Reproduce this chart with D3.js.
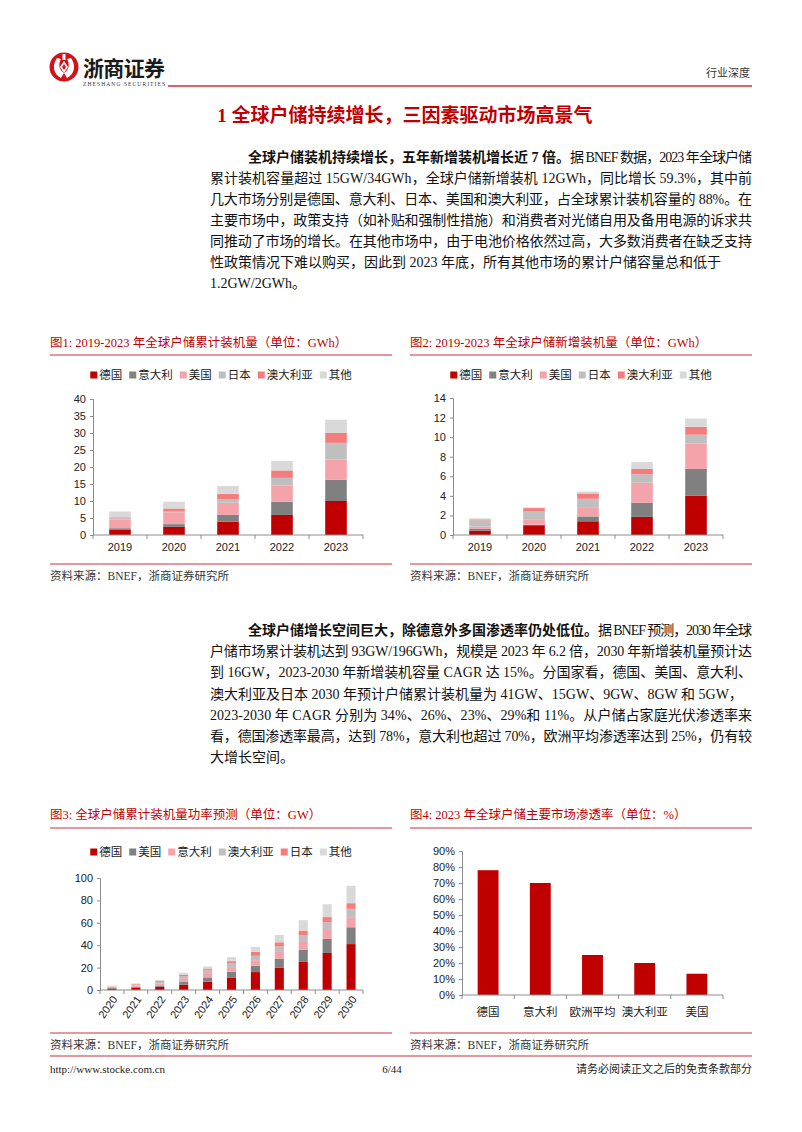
<!DOCTYPE html>
<html><head><meta charset="utf-8">
<script src="https://cdn.jsdelivr.net/npm/d3@7"></script>
<style>
body{margin:0;background:#fff;}
svg{display:block;}
</style></head><body>
<svg id="page" width="802" height="1132"></svg>
<script>
// ---------------- DATA ----------------
// Fig 1: cumulative installed (GWh)
const cumYears = ["2019","2020","2021","2022","2023"];
const cumSeries = ["德国","意大利","美国","日本","澳大利亚","其他"];
const cumGermany = [1.5, 2.4, 3.9, 5.9, 10.0];
const cumItaly   = [0.5, 0.8, 2.0, 3.9, 6.2];
const cumUS      = [2.6, 3.5, 3.6, 4.7, 6.0];
const cumJapan   = [0.3, 0.2, 1.0, 2.3, 4.9];
const cumAus     = [0.3, 0.9, 1.6, 2.2, 2.9];
const cumOther   = [1.7, 2.0, 2.3, 2.8, 3.9];
const cumTicks   = [0, 5, 10, 15, 20, 25, 30, 35, 40];

// Fig 2: new installations (GWh)
const newYears = ["2019","2020","2021","2022","2023"];
const newSeries = ["德国","意大利","美国","日本","澳大利亚","其他"];
const newGermany = [0.45, 1.0, 1.4, 1.85, 4.0];
const newItaly   = [0.2, 0.05, 0.5, 1.45, 2.75];
const newUS      = [0.2, 0.5, 0.95, 2.05, 2.6];
const newJapan   = [0.65, 0.85, 0.85, 0.85, 0.9];
const newAus     = [0.1, 0.35, 0.55, 0.55, 0.8];
const newOther   = [0.1, 0.07, 0.2, 0.7, 0.85];
const newTicks   = [0, 2, 4, 6, 8, 10, 12, 14];

// Fig 3: forecast cumulative power (GW)
const fcYears = ["2020","2021","2022","2023","2024","2025","2026","2027","2028","2029","2030"];
const fcSeries = ["德国","美国","意大利","澳大利亚","日本","其他"];
const fcGermany = [1.3, 2.0, 2.8, 4.7, 7.4, 11.2, 16.0, 20.1, 25.1, 33.1, 41.0];
const fcUS      = [0.5, 0.8, 1.2, 2.4, 3.8, 5.1, 5.6, 8.0, 11.0, 12.5, 15.0];
const fcItaly   = [0.7, 1.1, 1.8, 2.7, 4.8, 4.1, 5.0, 5.9, 6.8, 8.0, 9.0];
const fcAus     = [0.5, 0.9, 1.5, 2.3, 2.0, 3.6, 3.9, 4.8, 5.9, 6.8, 7.5];
const fcJapan   = [0.3, 0.5, 0.7, 1.5, 1.2, 1.7, 3.5, 3.8, 4.2, 4.7, 5.0];
const fcOther   = [0.4, 0.6, 1.0, 1.8, 1.8, 3.6, 4.5, 6.5, 9.4, 11.5, 15.5];
const fcTicks   = [0, 20, 40, 60, 80, 100];

// Fig 4: penetration rate 2023 (%)
const penMarkets = ["德国","意大利","欧洲平均","澳大利亚","美国"];
const penRates   = [78, 70, 25, 20, 13.3];
const penTicks   = [0, 10, 20, 30, 40, 50, 60, 70, 80, 90];

// Text content
const para1 = [
  {bold:"全球户储装机持续增长，五年新增装机增长近 7 倍。", text:"据 BNEF 数据，2023 年全球户储", justify:true},
  {text:"累计装机容量超过 15GW/34GWh，全球户储新增装机 12GWh，同比增长 59.3%，其中前", justify:true},
  {text:"几大市场分别是德国、意大利、日本、美国和澳大利亚，占全球累计装机容量的 88%。在", justify:true},
  {text:"主要市场中，政策支持（如补贴和强制性措施）和消费者对光储自用及备用电源的诉求共", justify:true},
  {text:"同推动了市场的增长。在其他市场中，由于电池价格依然过高，大多数消费者在缺乏支持", justify:true},
  {text:"性政策情况下难以购买，因此到 2023 年底，所有其他市场的累计户储容量总和低于", justify:false},
  {text:"1.2GW/2GWh。", justify:false}
];
const para2 = [
  {bold:"全球户储增长空间巨大，除德意外多国渗透率仍处低位。", text:"据 BNEF 预测，2030 年全球", justify:true},
  {text:"户储市场累计装机达到 93GW/196GWh，规模是 2023 年 6.2 倍，2030 年新增装机量预计达", justify:true},
  {text:"到 16GW，2023-2030 年新增装机容量 CAGR 达 15%。分国家看，德国、美国、意大利、", justify:true},
  {text:"澳大利亚及日本 2030 年预计户储累计装机量为 41GW、15GW、9GW、8GW 和 5GW，", justify:false},
  {text:"2023-2030 年 CAGR 分别为 34%、26%、23%、29%和 11%。从户储占家庭光伏渗透率来", justify:true},
  {text:"看，德国渗透率最高，达到 78%，意大利也超过 70%，欧洲平均渗透率达到 25%，仍有较", justify:true},
  {text:"大增长空间。", justify:false}
];

// ---------------- STYLE ----------------
const SERIF = "'Liberation Serif','Noto Sans CJK SC',serif";
const SANS = "'Liberation Sans','Noto Sans CJK SC',sans-serif";
const RED = "#c00000";
const RULE = "#c8323c";
const colorsA = ["#c00000","#808080","#f5a3ab","#bfbfbf","#f47c7c","#d9d9d9"];
const colorsB = ["#c00000","#808080","#f5a3ab","#bfbfbf","#f47c7c","#d9d9d9"];
const AXIS = "#8c8c8c";

const svg = d3.select("#page");
svg.append("rect").attr("width",802).attr("height",1132).attr("fill","#fff");

// ---------------- HEADER ----------------
const logo = svg.append("g").attr("transform","translate(64,67)");
logo.append("circle").attr("r",14.5).attr("fill","#d0121b");
logo.append("path").attr("d","M-7,-9 C-12,-2 -11,7 -3,11 L0,6 C-5,3 -6,-3 -3,-8 Z").attr("fill","#fff");
logo.append("path").attr("d","M7,-9 C12,-2 11,7 3,11 L0,6 C5,3 6,-3 3,-8 Z").attr("fill","#fff");
logo.append("path").attr("d","M0,-6 L4,0 L0,6 L-4,0 Z").attr("fill","#fff");
logo.append("path").attr("d","M0,-3 L2,0 L0,3 L-2,0 Z").attr("fill","#d0121b");
logo.append("rect").attr("x",-1.5).attr("y",-13).attr("width",3).attr("height",6).attr("fill","#fff");
svg.append("text").attr("x",83).attr("y",76).attr("font-family","'Noto Sans CJK SC',sans-serif")
  .attr("font-weight",700).attr("font-size",21).attr("fill","#1a1a1a").attr("textLength",82).text("浙商证券");
svg.append("text").attr("x",83).attr("y",86).attr("font-family",SERIF).attr("font-size",5.5)
  .attr("fill","#333").attr("textLength",82).text("ZHESHANG SECURITIES");
svg.append("line").attr("x1",168).attr("x2",752).attr("y1",86).attr("y2",86).attr("stroke",RULE).attr("stroke-width",1.5);
svg.append("text").attr("x",750).attr("y",77).attr("text-anchor","end").attr("font-family",SERIF)
  .attr("font-size",11).attr("fill","#333").text("行业深度");

svg.append("text").attr("x",405).attr("y",122).attr("text-anchor","middle").attr("font-family",SERIF)
  .attr("font-weight",700).attr("font-size",19).attr("fill",RED).text("1 全球户储持续增长，三因素驱动市场高景气");

// ---------------- PARAGRAPHS ----------------
function paragraph(lines, yBase, lh) {
  const leftX = 210, indentX = 248, rightX = 752;
  lines.forEach((ln, i) => {
    const y = yBase + i * lh;
    let x = i === 0 ? indentX : leftX;
    if (ln.bold) {
      const b = svg.append("text").attr("x", x).attr("y", y).attr("font-family", SERIF)
        .attr("font-weight", 700).attr("font-size", 14).attr("fill", "#111").text(ln.bold);
      x += b.node().getComputedTextLength();
    }
    const t = svg.append("text").attr("x", x).attr("y", y).attr("font-family", SERIF)
      .attr("font-size", 14).attr("fill", "#111").text(ln.text);
    if (ln.justify) t.attr("textLength", rightX - x).attr("lengthAdjust", "spacing");
  });
}
paragraph(para1, 162, 21);
paragraph(para2, 635, 21.2);

// ---------------- CHART HELPERS ----------------
function panelFrame(x0, x1, titleY, ruleY, bottomY, title) {
  svg.append("text").attr("x", x0).attr("y", titleY).attr("font-family", SERIF).attr("font-size", 12.5)
    .attr("fill", RED).text(title);
  svg.append("line").attr("x1", x0).attr("x2", x1).attr("y1", ruleY).attr("y2", ruleY)
    .attr("stroke", RULE).attr("stroke-width", 1);
  svg.append("line").attr("x1", x0).attr("x2", x1).attr("y1", bottomY).attr("y2", bottomY)
    .attr("stroke", RULE).attr("stroke-width", 1);
  svg.append("text").attr("x", x0).attr("y", bottomY + 16).attr("font-family", SERIF).attr("font-size", 11.5)
    .attr("fill", "#333").text("资料来源：BNEF，浙商证券研究所");
}

function legend(names, colors, cx, y) {
  const g = svg.append("g");
  let x = 0;
  names.forEach((n, i) => {
    g.append("rect").attr("x", x).attr("y", y - 7.5).attr("width", 7).attr("height", 7).attr("fill", colors[i]);
    const t = g.append("text").attr("x", x + 9).attr("y", y).attr("font-family", SANS).attr("font-size", 11.5)
      .attr("fill", "#222").text(n);
    x += 9 + t.node().getComputedTextLength() + 7;
  });
  const total = x - 7;
  g.attr("transform", `translate(${cx - total / 2},0)`);
}

function axes(x, y, ticks, fmt, x0, x1, yBot) {
  const ya = svg.append("g").attr("transform", `translate(${x0},0)`)
    .call(d3.axisLeft(y).tickValues(ticks).tickSize(3).tickPadding(4).tickFormat(fmt));
  ya.select(".domain").attr("stroke", AXIS);
  ya.selectAll(".tick line").attr("stroke", AXIS);
  ya.selectAll(".tick text").attr("font-family", SANS).attr("font-size", 11).attr("fill", "#222");
  svg.append("line").attr("x1", x0).attr("x2", x1).attr("y1", yBot).attr("y2", yBot).attr("stroke", AXIS);
  const bounds = d3.range(x.domain().length + 1).map(i => x.range()[0] + i * x.step());
  svg.selectAll(null).data(bounds).enter().append("line")
    .attr("x1", d => d).attr("x2", d => d).attr("y1", yBot).attr("y2", yBot + 4).attr("stroke", AXIS);
}

function stackedChart(cfg) {
  const rows = cfg.cats.map((c, i) => {
    const r = { cat: c };
    cfg.keys.forEach((k, j) => r[k] = cfg.vals[j][i]);
    return r;
  });
  const series = d3.stack().keys(cfg.keys)(rows);
  const x = d3.scaleBand().domain(cfg.cats).range([cfg.x0, cfg.x1]);
  const y = d3.scaleLinear().domain([0, cfg.ticks[cfg.ticks.length - 1]]).range([cfg.yBot, cfg.yTop]);
  const bw = x.bandwidth() * cfg.barFrac;
  series.forEach((s, j) => {
    svg.append("g").selectAll("rect").data(s).enter().append("rect")
      .attr("x", d => x(d.data.cat) + (x.bandwidth() - bw) / 2)
      .attr("y", d => y(d[1]))
      .attr("width", bw)
      .attr("height", d => y(d[0]) - y(d[1]))
      .attr("fill", cfg.colors[j]);
  });
  axes(x, y, cfg.ticks, d => d, cfg.x0, cfg.x1, cfg.yBot);
  const lab = svg.append("g").selectAll("text").data(cfg.cats).enter().append("text")
    .attr("font-family", SANS).attr("font-size", 11).attr("fill", "#222").text(d => d);
  if (cfg.rotate) {
    lab.attr("text-anchor", "end")
      .attr("transform", d => `translate(${x(d) + x.bandwidth() / 2 + 3},${cfg.yBot + 7}) rotate(-55)`)
      .attr("dy", "0.35em");
  } else {
    lab.attr("text-anchor", "middle").attr("x", d => x(d) + x.bandwidth() / 2).attr("y", cfg.yBot + 16);
  }
}

// ---------------- FIG 1 ----------------
panelFrame(50, 392, 347, 355, 564, "图1:  2019-2023 年全球户储累计装机量（单位：GWh）");
legend(cumSeries, colorsA, 221, 379);
stackedChart({
  cats: cumYears, keys: cumSeries,
  vals: [cumGermany, cumItaly, cumUS, cumJapan, cumAus, cumOther],
  colors: colorsA, x0: 93, x1: 363, yTop: 399, yBot: 535, ticks: cumTicks, barFrac: 0.4
});

// ---------------- FIG 2 ----------------
panelFrame(410, 752, 347, 355, 564, "图2:  2019-2023 年全球户储新增装机量（单位：GWh）");
legend(newSeries, colorsA, 581, 379);
stackedChart({
  cats: newYears, keys: newSeries,
  vals: [newGermany, newItaly, newUS, newJapan, newAus, newOther],
  colors: colorsA, x0: 453, x1: 723, yTop: 398, yBot: 535, ticks: newTicks, barFrac: 0.4
});

// ---------------- FIG 3 ----------------
panelFrame(50, 392, 819, 828, 1033, "图3:  全球户储累计装机量功率预测（单位：GW）");
legend(fcSeries, colorsB, 221, 856);
stackedChart({
  cats: fcYears, keys: fcSeries,
  vals: [fcGermany, fcUS, fcItaly, fcAus, fcJapan, fcOther],
  colors: colorsB, x0: 100, x1: 363, yTop: 878, yBot: 990, ticks: fcTicks, barFrac: 0.38, rotate: true
});

// ---------------- FIG 4 ----------------
panelFrame(410, 752, 819, 828, 1033, "图4:  2023 年全球户储主要市场渗透率（单位：%）");
(function () {
  const x0 = 462, x1 = 723, yTop = 851, yBot = 995;
  const x = d3.scaleBand().domain(penMarkets).range([x0, x1]);
  const y = d3.scaleLinear().domain([0, 90]).range([yBot, yTop]);
  const bw = x.bandwidth() * 0.4;
  svg.append("g").selectAll("rect").data(penMarkets.map((m, i) => ({ m, v: penRates[i] }))).enter()
    .append("rect")
    .attr("x", d => x(d.m) + (x.bandwidth() - bw) / 2)
    .attr("y", d => y(d.v)).attr("width", bw).attr("height", d => yBot - y(d.v))
    .attr("fill", RED);
  axes(x, y, penTicks, d => d + "%", x0, x1, yBot);
  svg.append("g").selectAll("text").data(penMarkets).enter().append("text")
    .attr("x", d => x(d) + x.bandwidth() / 2).attr("y", yBot + 21)
    .attr("text-anchor", "middle").attr("font-family", SANS).attr("font-size", 11.5)
    .attr("fill", "#222").text(d => d);
})();

// ---------------- FOOTER ----------------
svg.append("line").attr("x1", 50).attr("x2", 752).attr("y1", 1056).attr("y2", 1056)
  .attr("stroke", RULE).attr("stroke-width", 1.2);
svg.append("text").attr("x", 50).attr("y", 1073).attr("font-family", SERIF).attr("font-size", 11)
  .attr("fill", "#222").text("http://www.stocke.com.cn");
svg.append("text").attr("x", 392).attr("y", 1073).attr("text-anchor", "middle").attr("font-family", SERIF)
  .attr("font-size", 11).attr("fill", "#222").text("6/44");
svg.append("text").attr("x", 752).attr("y", 1073).attr("text-anchor", "end").attr("font-family", SERIF)
  .attr("font-size", 11).attr("fill", "#222").text("请务必阅读正文之后的免责条款部分");
</script>
</body></html>
